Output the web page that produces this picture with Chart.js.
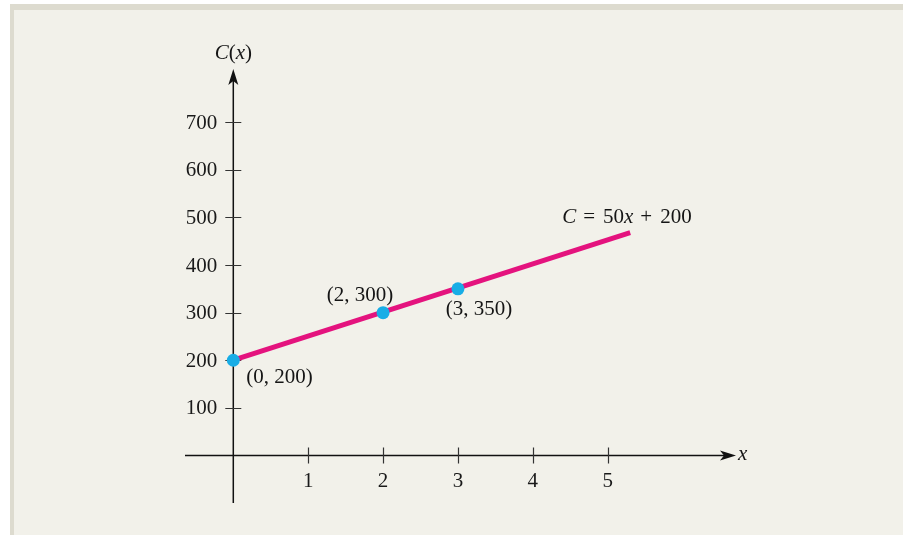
<!DOCTYPE html>
<html>
<head>
<meta charset="utf-8">
<script src="https://cdn.jsdelivr.net/npm/chart.js@4.4.0/dist/chart.umd.min.js"></script>
<style>
  html, body { margin: 0; padding: 0; background: #fff; }
  .frame {
    position: absolute; left: 10px; top: 4px; width: 893px; height: 531px;
    box-sizing: border-box; background: #f2f1ea;
    border-top: 6px solid #dddbcf; border-left: 4px solid #dddbcf;
  }
  .wrap { position: absolute; left: 0; top: 0; width: 903px; height: 535px; }
</style>
</head>
<body>
<div class="frame"></div>
<div class="wrap"><canvas id="chart"></canvas></div>
<script>
// tick labels
const xTicks = [1, 2, 3, 4, 5];
const yTicks = [100, 200, 300, 400, 500, 600, 700];

// labelled points on the line
const pointXs = [0, 2, 3];
const pointYs = [200, 300, 350];

// the cost line, from the intercept to where it stops
const lineXs = [0, 5.3];
const lineYs = [200, 468];

const FONT = '"Liberation Serif", "Times New Roman", serif';
const SIZE = 21;
const PINK = '#e4137e';
const CYAN = '#18ade6';

// draws text made of [text, italic] pieces, a number is a gap in pixels
function richText(ctx, parts, x, y, align) {
    let widths = parts.map(p => {
        if (typeof p === 'number') return p;
        ctx.font = (p[1] ? 'italic ' : '') + SIZE + 'px ' + FONT;
        return ctx.measureText(p[0]).width;
    });
    let total = widths.reduce((a, b) => a + b, 0);
    let cx = align === 'center' ? x - total / 2 : align === 'right' ? x - total : x;
    ctx.textAlign = 'left';
    ctx.textBaseline = 'middle';
    parts.forEach((p, i) => {
        if (typeof p !== 'number') {
            ctx.font = (p[1] ? 'italic ' : '') + SIZE + 'px ' + FONT;
            ctx.fillText(p[0], cx, y);
        }
        cx += widths[i];
    });
}

const axesPlugin = {
    id: 'axes',
    beforeDatasetsDraw(chart) {
        const {ctx, chartArea: a, scales: {x, y}} = chart;
        const ox = x.getPixelForValue(0), oy = y.getPixelForValue(0);
        ctx.save();
        ctx.strokeStyle = '#111';
        ctx.lineWidth = 1.5;
        ctx.beginPath();
        ctx.moveTo(a.left, oy);
        ctx.lineTo(a.right - 10, oy);
        ctx.moveTo(ox, a.bottom);
        ctx.lineTo(ox, a.top + 10);
        ctx.stroke();

        ctx.strokeStyle = '#333';
        ctx.lineWidth = 1.2;
        ctx.beginPath();
        x.ticks.forEach(t => {
            let px = Math.round(x.getPixelForValue(t.value)) + 0.5;
            ctx.moveTo(px, oy - 8);
            ctx.lineTo(px, oy + 8);
        });
        y.ticks.forEach(t => {
            let py = Math.round(y.getPixelForValue(t.value)) + 0.5;
            ctx.moveTo(ox - 8, py);
            ctx.lineTo(ox + 8, py);
        });
        ctx.stroke();

        // y tick labels, placed left of the crossing axis
        ctx.fillStyle = '#1a1a1a';
        y.ticks.forEach(t => {
            richText(ctx, [[String(t.value), false]], ox - 16, y.getPixelForValue(t.value) + 1, 'right');
        });

        // arrow heads
        ctx.fillStyle = '#111';
        ctx.beginPath();
        ctx.moveTo(a.right, oy);
        ctx.lineTo(a.right - 16, oy - 5);
        ctx.lineTo(a.right - 12, oy);
        ctx.lineTo(a.right - 16, oy + 5);
        ctx.closePath();
        ctx.fill();
        ctx.beginPath();
        ctx.moveTo(ox, a.top);
        ctx.lineTo(ox - 5, a.top + 16);
        ctx.lineTo(ox, a.top + 12);
        ctx.lineTo(ox + 5, a.top + 16);
        ctx.closePath();
        ctx.fill();
        ctx.restore();
    },
    afterDatasetsDraw(chart) {
        const {ctx, chartArea: a, scales: {x, y}} = chart;
        const ox = x.getPixelForValue(0), oy = y.getPixelForValue(0);
        ctx.save();
        ctx.fillStyle = '#151515';
        richText(ctx, [['C', true], ['(', false], ['x', true], [')', false]], ox, a.top - 16, 'center');
        richText(ctx, [['x', true]], a.right + 2, oy - 1, 'left');

        // point labels
        const offsets = [[13, 17, 'left'], [-23, -17, 'center'], [21, 21, 'center']];
        pointXs.forEach((vx, i) => {
            let px = x.getPixelForValue(vx), py = y.getPixelForValue(pointYs[i]);
            let o = offsets[i];
            richText(ctx, [['(' + vx + ', ' + pointYs[i] + ')', false]], px + o[0], py + o[1], o[2]);
        });

        // equation near the end of the line
        let ex = x.getPixelForValue(lineXs[1]), ey = y.getPixelForValue(lineYs[1]);
        richText(ctx, [['C', true], 7, ['=', false], 8, ['50', false], ['x', true], 7, ['+', false], 8, ['200', false]],
            ex - 68, ey - 15, 'left');
        ctx.restore();
    }
};

new Chart(document.getElementById('chart'), {
    type: 'scatter',
    data: {
        datasets: [
            {
                label: 'points',
                data: pointXs.map((v, i) => ({x: v, y: pointYs[i]})),
                backgroundColor: CYAN,
                borderWidth: 0,
                pointRadius: 6.5
            },
            {
                label: 'C = 50x + 200',
                data: lineXs.map((v, i) => ({x: v, y: lineYs[i]})),
                showLine: true,
                borderColor: PINK,
                borderWidth: 5,
                pointRadius: 0
            }
        ]
    },
    plugins: [axesPlugin],
    options: {
        responsive: true,
        maintainAspectRatio: false,
        animation: false,
        events: [],
        layout: {padding: {left: 185, right: 167, top: 69, bottom: 32}},
        plugins: {legend: {display: false}, tooltip: {enabled: false}},
        scales: {
            x: {
                type: 'linear',
                position: {y: 0},
                min: -0.645,
                max: 6.713,
                afterBuildTicks: s => { s.ticks = xTicks.map(v => ({value: v})); },
                grid: {display: false, drawTicks: false},
                border: {display: false},
                ticks: {padding: 13, color: '#1a1a1a', font: {family: FONT, size: SIZE}, autoSkip: false, maxRotation: 0}
            },
            y: {
                type: 'linear',
                position: {x: 0},
                min: -100,
                max: 812,
                afterBuildTicks: s => { s.ticks = yTicks.map(v => ({value: v})); },
                grid: {display: false, drawTicks: false},
                border: {display: false},
                // labels are drawn by the axes plugin so they sit clear of the tick marks
                ticks: {display: false}
            }
        }
    }
});
</script>
</body>
</html>
